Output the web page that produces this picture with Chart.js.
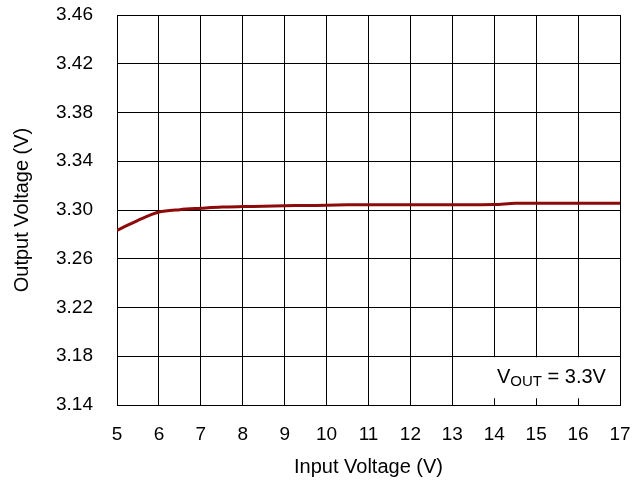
<!DOCTYPE html>
<html>
<head>
<meta charset="utf-8">
<script src="https://cdn.jsdelivr.net/npm/chart.js@4/dist/chart.umd.min.js"></script>
<style>
  html, body { margin: 0; padding: 0; background: #fff; }
  #wrap { width: 644px; height: 485px; }
</style>
</head>
<body>
<div id="wrap"><canvas id="vChart" width="644" height="485"></canvas></div>
<script>
// input voltage (V) and measured output voltage (V)
const vin  = [5, 5.5, 6, 6.5, 7, 7.5, 8, 8.5, 9, 9.5, 10, 10.5, 11, 11.5, 12, 12.5, 13, 13.5, 14, 14.5, 15, 15.5, 16, 16.5, 17];
const vout = [3.2833, 3.2915, 3.2983, 3.3003, 3.3014, 3.3024, 3.3028, 3.3031, 3.3035, 3.3037, 3.3039, 3.3043, 3.3044, 3.3044, 3.3044, 3.3044, 3.3044, 3.3044, 3.3045, 3.3055, 3.3055, 3.3055, 3.3055, 3.3055, 3.3055];
const yLabels = ['3.14', '3.18', '3.22', '3.26', '3.30', '3.34', '3.38', '3.42', '3.46'];

const FONT = 'Liberation Sans, Arial, sans-serif';

const noteBox = {
    id: 'noteBox',
    afterDatasetsDraw(chart) {
        const { ctx, scales: { x, y } } = chart;
        const left = x.getPixelForValue(13) + 1;
        const right = x.getPixelForValue(17) - 1;
        const top = y.getPixelForValue(3.18) + 1;
        const bottom = y.getPixelForValue(3.1455);
        ctx.save();
        ctx.fillStyle = '#fff';
        ctx.fillRect(left, top, right - left, bottom - top);
        ctx.fillStyle = '#000';
        ctx.textBaseline = 'alphabetic';
        let px = 497, base = 383;
        ctx.font = '20px ' + FONT;
        ctx.fillText('V', px, base);
        px += ctx.measureText('V').width;
        ctx.font = '15px ' + FONT;
        ctx.fillText('OUT', px, base + 3);
        px += ctx.measureText('OUT').width;
        ctx.font = '20px ' + FONT;
        ctx.fillText(' = 3.3V', px, base);
        ctx.restore();
    }
};

new Chart(document.getElementById('vChart').getContext('2d'), {
    type: 'line',
    data: {
        datasets: [{
            data: vin.map((v, i) => ({ x: v, y: vout[i] })),
            borderColor: '#8e0a0a',
            borderWidth: 3,
            pointRadius: 0,
            tension: 0.3,
            fill: false
        }]
    },
    options: {
        responsive: false,
        animation: false,
        layout: { padding: { top: 15, right: 24, left: 0, bottom: 0 } },
        plugins: { legend: { display: false }, tooltip: { enabled: false } },
        scales: {
            x: {
                type: 'linear',
                min: 5, max: 17,
                afterFit: s => { s.height = 80; s.paddingLeft = 0; s.paddingRight = 0; },
                grid: { color: '#000', lineWidth: 1, drawTicks: false },
                border: { color: '#000', width: 1 },
                ticks: { stepSize: 1, color: '#000', padding: 18, font: { family: FONT, size: 19 } },
                title: { display: true, text: 'Input Voltage (V)', color: '#000', font: { family: FONT, size: 20 }, padding: { top: 0, bottom: 6 } }
            },
            y: {
                min: 3.14, max: 3.46,
                afterFit: s => { s.width = 117; s.paddingTop = 0; s.paddingBottom = 0; },
                grid: { color: '#000', lineWidth: 1, drawTicks: false },
                border: { color: '#000', width: 1 },
                ticks: {
                    stepSize: 0.04, color: '#000', padding: 24, font: { family: FONT, size: 19 },
                    callback: (v, i) => yLabels[i]
                },
                title: { display: true, text: 'Output Voltage (V)', color: '#000', font: { family: FONT, size: 20 }, padding: { top: 10, bottom: 0 } }
            }
        }
    },
    plugins: [noteBox]
});
</script>
</body>
</html>
